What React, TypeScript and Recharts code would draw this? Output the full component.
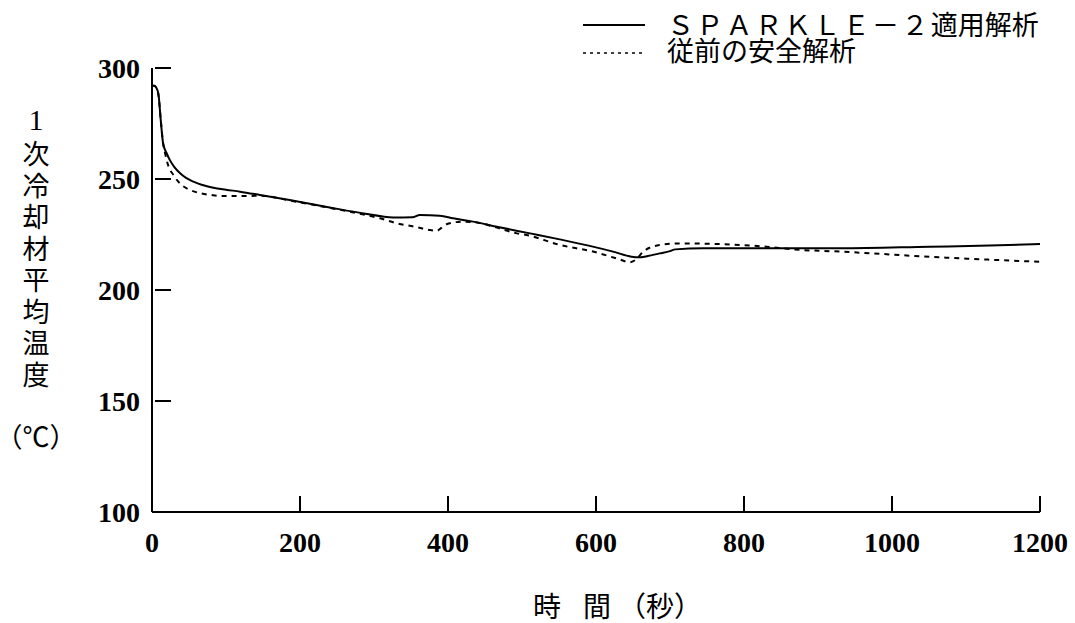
import React from 'react'
import { LineChart, Line, XAxis, YAxis } from 'recharts'

// time (s) and mean primary coolant temperature (°C)
const sparkleTime = [
  0, 3, 6, 8.6, 11.7, 15, 19.8, 24, 30, 38, 46, 56, 68, 83, 100, 119, 146, 186,
  240, 286, 326, 352, 362, 389, 407, 434, 466, 511, 551, 590, 623, 648, 657, 670,
  686, 700, 707, 745, 844, 930, 1051, 1132, 1200,
]
const sparkleTemp = [
  292, 292, 291, 288.6, 277, 266, 261.6, 258.6, 255.5, 252.6, 250.5, 248.8, 247.3,
  246.1, 245.2, 244.3, 242.8, 240.5, 237.2, 234.5, 232.7, 232.8, 233.8, 233.5,
  232.3, 230.8, 228.5, 225.5, 222.8, 220, 217.3, 215, 214.7, 215.3, 216.5, 217.5,
  218.3, 218.8, 218.8, 218.8, 219.5, 220, 220.7,
]

const conventionalTime = [
  0, 3, 6, 9, 12, 15, 17.6, 22, 29, 35, 42, 52, 65, 80, 96, 132, 146, 186, 240,
  286, 308, 331, 355, 376, 385, 391, 398, 420, 439, 465, 493, 506, 551, 596, 630,
  646, 653, 664, 686, 709, 767, 830, 866, 930, 1065, 1200,
]
const conventionalTemp = [
  292, 292, 291, 287, 276, 266, 261.7, 256, 251.8, 249, 246.8, 245, 243.6, 242.8,
  242.3, 242.3, 242.5, 240.3, 237, 234, 232.3, 230, 228.5, 227, 226.7, 228, 229.6,
  230.8, 230.4, 228.2, 225.5, 224.8, 220.3, 217.3, 214, 212.5, 213.5, 217.3, 220.3,
  221, 220.7, 219.5, 218.3, 217.3, 214.7, 212.7,
]

const xTicks = [0, 200, 400, 600, 800, 1000, 1200]
const yTicks = [100, 150, 200, 250, 300]

const yTitleChars = ['次', '冷', '却', '材', '平', '均', '温', '度']

const sparkleRows = sparkleTime.map((t, i) => ({ t, T: sparkleTemp[i] }))
const conventionalRows = conventionalTime.map((t, i) => ({ t, T: conventionalTemp[i] }))

const SERIF = '"Liberation Serif", "Times New Roman", serif'
const JP = '"Noto Sans CJK JP", sans-serif'

const YTick = ({ x, y, payload }: any) => (
  <g>
    <line x1={x + 15} y1={y} x2={x + 31} y2={y} stroke="#000" strokeWidth={2} />
    <text x={x} y={y + 10} textAnchor="end" fontSize={28} fontWeight="bold" fontFamily={SERIF} fill="#000">
      {payload.value}
    </text>
  </g>
)

const XTick = ({ x, y, payload }: any) => (
  <g>
    <line x1={x} y1={y - 40} x2={x} y2={y - 56} stroke="#000" strokeWidth={2} />
    <text x={x} y={y} textAnchor="middle" fontSize={28} fontWeight="bold" fontFamily={SERIF} fill="#000">
      {payload.value}
    </text>
  </g>
)

export default function App() {
  return (
    <div style={{ position: 'absolute', left: 0, top: 0, width: 1075, height: 623, background: '#fff' }}>
      <LineChart width={1075} height={623} margin={{ top: 68, right: 35, bottom: 71, left: 72 }}>
        <XAxis
          type="number"
          dataKey="t"
          domain={[0, 1200]}
          ticks={xTicks}
          allowDataOverflow
          height={40}
          tickSize={0}
          tickMargin={40}
          tickLine={false}
          axisLine={{ stroke: '#000', strokeWidth: 2 }}
          tick={<XTick />}
        />
        <YAxis
          type="number"
          domain={[100, 300]}
          ticks={yTicks}
          allowDataOverflow
          width={80}
          tickSize={0}
          tickMargin={12}
          tickLine={false}
          axisLine={{ stroke: '#000', strokeWidth: 2 }}
          tick={<YTick />}
        />
        <Line
          data={conventionalRows}
          dataKey="T"
          type="monotone"
          stroke="#000"
          strokeWidth={2}
          strokeDasharray="5 5"
          dot={false}
          activeDot={false}
          isAnimationActive={false}
        />
        <Line
          data={sparkleRows}
          dataKey="T"
          type="monotone"
          stroke="#000"
          strokeWidth={2}
          dot={false}
          activeDot={false}
          isAnimationActive={false}
        />
      </LineChart>

      <svg
        width={1075}
        height={623}
        style={{ position: 'absolute', left: 0, top: 0, pointerEvents: 'none' }}
      >
        {/* legend */}
        <line x1={583} y1={25} x2={645} y2={25} stroke="#000" strokeWidth={2} />
        <line x1={583} y1={53} x2={645} y2={53} stroke="#000" strokeWidth={1.5} strokeDasharray="3 4" />
        <text x={667} y={35} fontSize={27} fontFamily={JP} fill="#000">
          <tspan letterSpacing={2.3}>ＳＰＡＲＫＬＥ－２</tspan>
          <tspan>適用解析</tspan>
        </text>
        <text x={667} y={61} fontSize={27} fontFamily={JP} fill="#000">
          従前の安全解析
        </text>

        {/* y axis title */}
        <text x={36} y={130} textAnchor="middle" fontSize={30} fontFamily={SERIF} fill="#000">
          1
        </text>
        {yTitleChars.map((c, i) => (
          <text key={c} x={36} y={164 + i * 31.5} textAnchor="middle" fontSize={27} fontFamily={JP} fill="#000">
            {c}
          </text>
        ))}
        <text x={36} y={447} textAnchor="middle" fontSize={27} fontFamily={JP} fill="#000">
          （℃）
        </text>

        {/* x axis title */}
        <text x={547} y={617} textAnchor="middle" fontSize={28} fontFamily={JP} fill="#000">時</text>
        <text x={597} y={617} textAnchor="middle" fontSize={28} fontFamily={JP} fill="#000">間</text>
        <text x={660} y={617} textAnchor="middle" fontSize={28} fontFamily={JP} fill="#000">（秒）</text>
      </svg>
    </div>
  )
}
